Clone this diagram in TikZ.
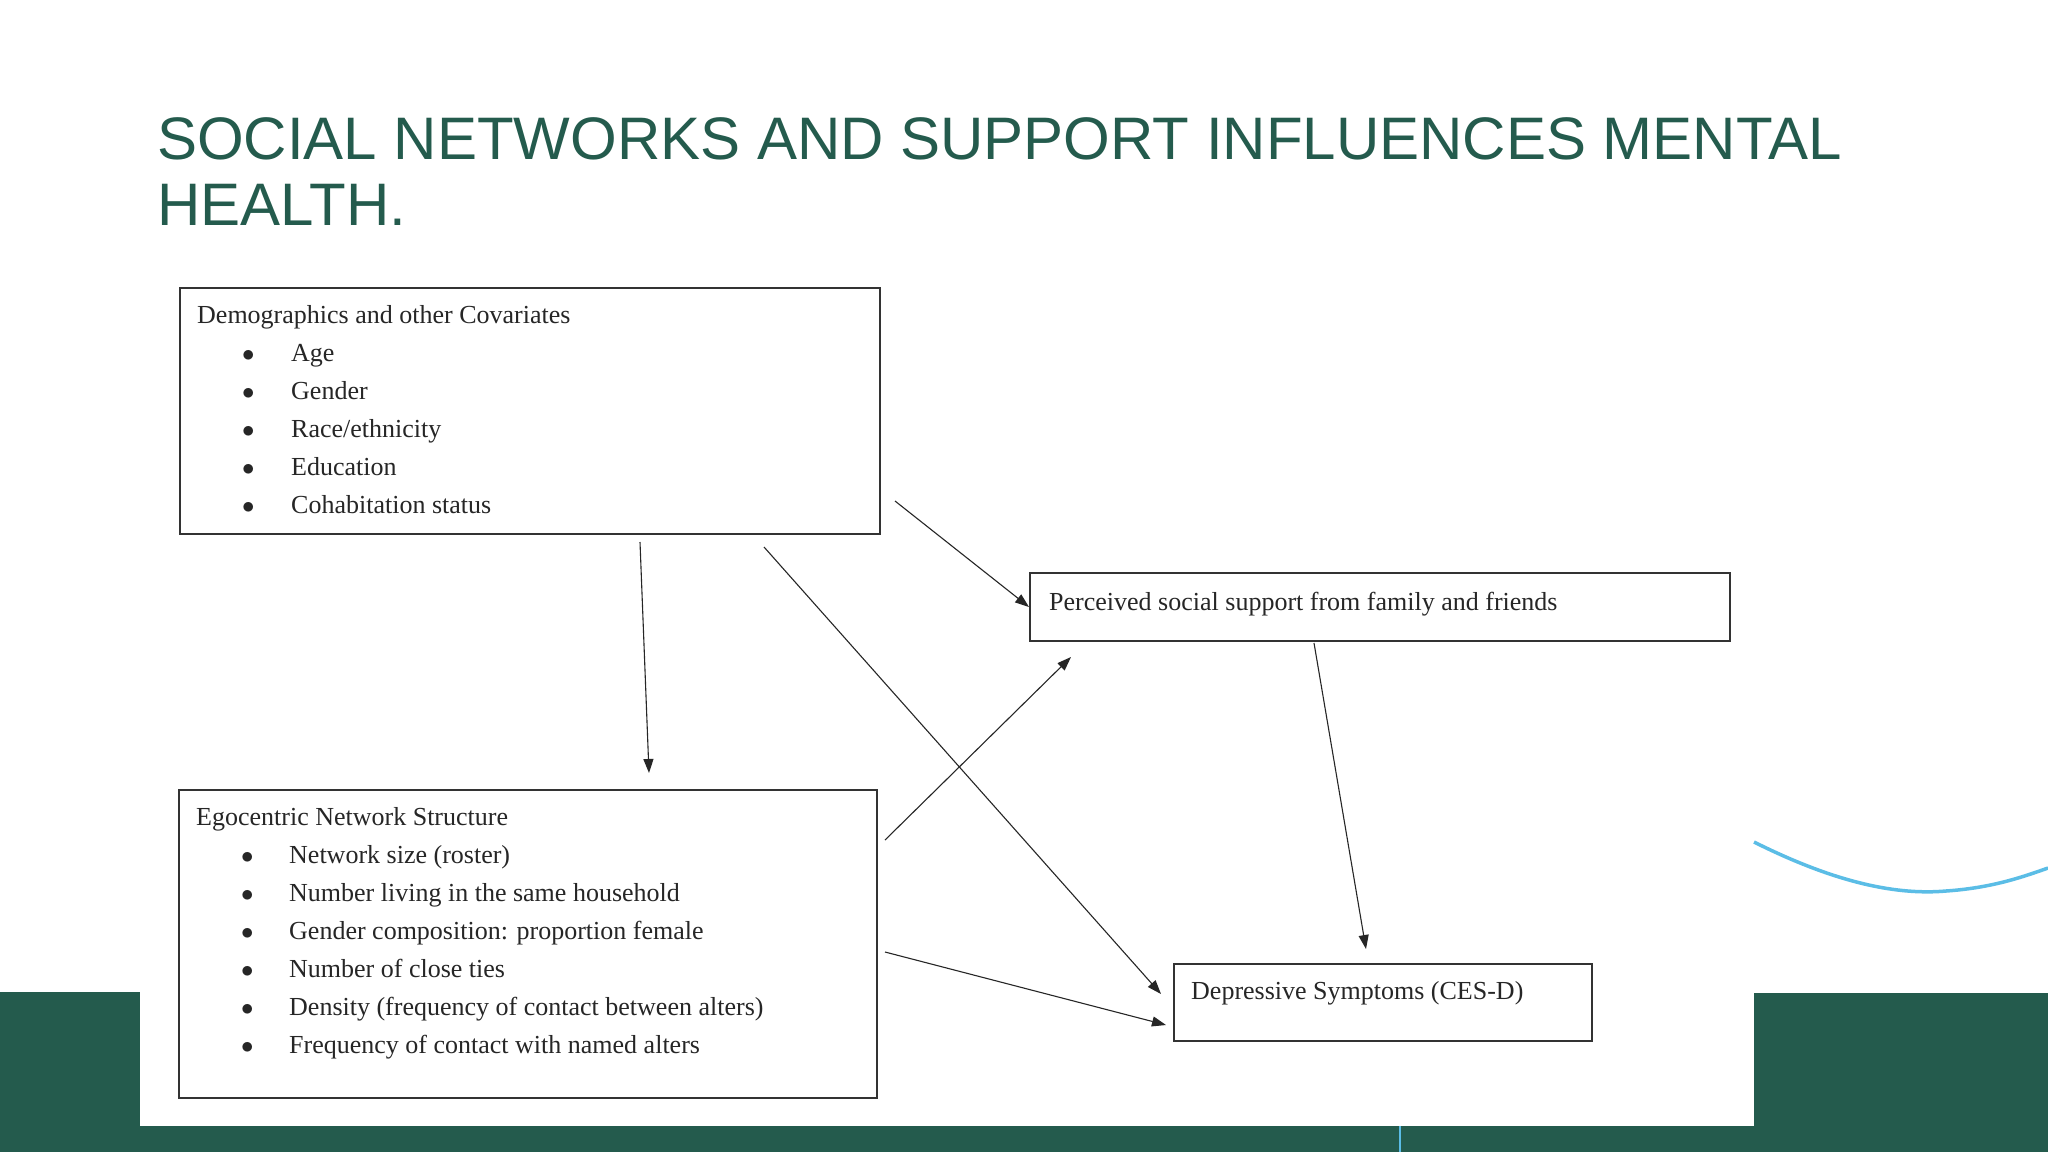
\documentclass[tikz,border=0pt]{standalone}
\usepackage{fontspec}
\setmainfont{Liberation Serif}
\newfontfamily\titlefont{Liberation Sans}
\usetikzlibrary{arrows.meta}
\definecolor{dgreen}{HTML}{245B4D}
\definecolor{lblue}{HTML}{5BBDE6}
\begin{document}
\begin{tikzpicture}[x=1pt,y=-1pt,
  box/.style={draw=black!80,line width=1.8pt,anchor=north west,inner sep=0pt},
  txt/.style={anchor=base west,inner sep=0pt,font=\fontsize{26}{38}\selectfont,text=black!85},
  arr/.style={line width=1.1pt,black!85,-{Triangle[length=14pt,width=10pt]}}]
\useasboundingbox (0,0) rectangle (2048,1152);
\fill[white] (0,0) rectangle (2048,1152);
% background shapes
\fill[dgreen] (0,992) rectangle (140,1152);
\fill[dgreen] (1754,993) rectangle (2048,1152);
\fill[dgreen] (0,1126) rectangle (2048,1152);
\draw[lblue,line width=2pt] (1400,1126) -- (1400,1152);
\draw[lblue,line width=3.5pt] (1754,842) .. controls (1840,885) and (1900,895) .. (1946,891) .. controls (1990,888) and (2020,878) .. (2048,868);
% title
\node[anchor=base west,inner sep=0pt,text=dgreen,font=\titlefont\fontsize{60}{66}\selectfont] (t1) at (157,159) {SOCIAL NETWORKS AND SUPPORT INFLUENCES MENTAL};
\node[anchor=base west,inner sep=0pt,text=dgreen,font=\titlefont\fontsize{60}{66}\selectfont] (t2) at (157,225) {HEALTH.};
% boxes
\node[box,minimum width=700pt,minimum height=246pt] (demo) at (179,287) {};
\node[box,minimum width=698pt,minimum height=308pt] (ego) at (178,789) {};
\node[box,minimum width=700pt,minimum height=68pt] (perc) at (1029,572) {};
\node[box,minimum width=418pt,minimum height=77pt] (dep) at (1173,963) {};
% box 1 text
\node[txt] (d0) at (197,323) {Demographics and other Covariates};
\foreach \t [count=\i] in {Age,Gender,Race/ethnicity,Education,Cohabitation status}{
  \node[txt] (db\i) at (242,323+38*\i) {$\bullet$};
  \node[txt] (dt\i) at (291,323+38*\i) {\t};
}
% box 2 text
\node[txt] (e0) at (196,825) {Egocentric Network Structure};
\foreach \t [count=\i] in {Network size (roster),Number living in the same household,Gender composition: proportion female,Number of close ties,Density (frequency of contact between alters),Frequency of contact with named alters}{
  \node[txt] (eb\i) at (241,825+38*\i) {$\bullet$};
  \node[txt] (et\i) at (289,825+38*\i) {\t};
}
\node[txt] (p0) at (1049,610) {Perceived social support from family and friends};
\node[txt] (q0) at (1191,999) {Depressive Symptoms (CES-D)};
% arrow endpoints
\coordinate (a1s) at (640,542); \coordinate (a1e) at (649,773);
\coordinate (a2s) at (764,547); \coordinate (a2e) at (1161,994);
\coordinate (a3s) at (895,501); \coordinate (a3e) at (1029,607);
\coordinate (a4s) at (885,840); \coordinate (a4e) at (1071,657);
\coordinate (a5s) at (885,952); \coordinate (a5e) at (1166,1025);
\coordinate (a6s) at (1314,643); \coordinate (a6e) at (1366,949);
\foreach \k in {1,...,6}{\draw[arr] (a\k s) -- (a\k e);}
\end{tikzpicture}
\end{document}
